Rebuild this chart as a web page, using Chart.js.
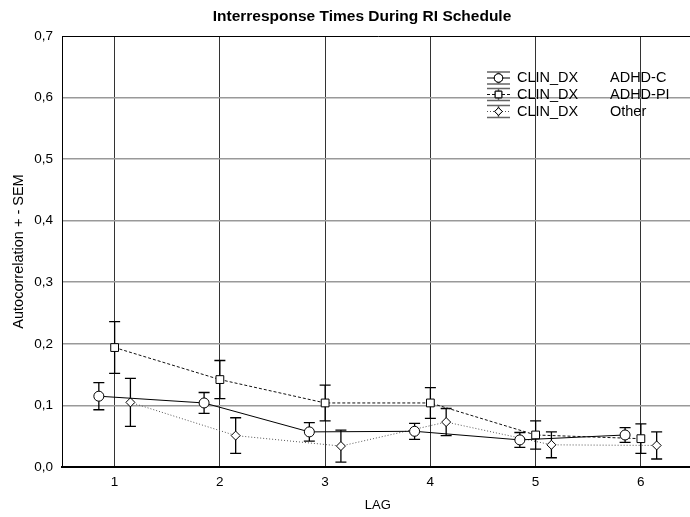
<!DOCTYPE html>
<html>
<head>
<meta charset="utf-8">
<script src="https://cdn.jsdelivr.net/npm/chart.js@4/dist/chart.umd.min.js"></script>
<style>
  html, body { margin: 0; padding: 0; background: #fff; overflow: hidden; }
  /* the plot runs a little past the right edge of the frame */
  #wrap { width: 690px; height: 517px; overflow: hidden; }
</style>
</head>
<body>
<div id="wrap"><canvas id="c" width="700" height="517"></canvas></div>
<script>
// Lags on the x axis
const lags = [1, 2, 3, 4, 5, 6];
const xTickLabels = ['1', '2', '3', '4', '5', '6'];
const yTickValues = [0, 0.1, 0.2, 0.3, 0.4, 0.5, 0.6, 0.7];

// Mean autocorrelation per clinical group, with its SEM
const adhdC  = [0.115, 0.104, 0.057, 0.058, 0.044, 0.052];
const semC   = [0.022, 0.017, 0.015, 0.013, 0.012, 0.012];
const adhdPI = [0.194, 0.142, 0.104, 0.104, 0.052, 0.046];
const semPI  = [0.042, 0.031, 0.029, 0.025, 0.023, 0.024];
const other  = [0.105, 0.051, 0.034, 0.073, 0.036, 0.035];
const semO   = [0.039, 0.029, 0.026, 0.022, 0.021, 0.022];

const groupNames = ['ADHD-C', 'ADHD-PI', 'Other'];
const factorName = 'CLIN_DX';
const chartTitle = 'Interresponse Times During RI Schedule';

const FONT = "'Liberation Sans', Arial, sans-serif";
Chart.defaults.font.family = FONT;
Chart.defaults.color = '#000';

const series = [
  { vals: adhdC,  sem: semC,  shift: -0.15, style: 'circle',  radius: 5,   color: '#000', dash: [] },
  { vals: adhdPI, sem: semPI, shift: 0,     style: 'rect',    radius: 5.5, color: '#111', dash: [3, 2] },
  { vals: other,  sem: semO,  shift: 0.15,  style: 'rectRot', radius: 4.5, color: '#555', dash: [1, 2] }
];

const datasets = series.map((s, k) => ({
  label: factorName + ' ' + groupNames[k],
  data: lags.map((l, i) => ({ x: l + s.shift, y: s.vals[i] })),
  borderColor: s.color,
  borderWidth: 1,
  borderDash: s.dash,
  pointStyle: s.style,
  pointRadius: s.radius,
  pointHoverRadius: s.radius,
  pointBackgroundColor: '#fff',
  pointBorderColor: '#000',
  pointBorderWidth: 1,
  tension: 0,
  fill: false
}));

// Vertical error bars (mean ± SEM) drawn under the markers
const errorBars = {
  id: 'errorBars',
  beforeDatasetsDraw(chart) {
    const { ctx, scales: { x, y } } = chart;
    ctx.save();
    ctx.strokeStyle = '#000';
    ctx.lineWidth = 1.3;
    ctx.setLineDash([]);
    series.forEach(s => {
      lags.forEach((l, i) => {
        const px = x.getPixelForValue(l + s.shift);
        const top = y.getPixelForValue(s.vals[i] + s.sem[i]);
        const bot = y.getPixelForValue(s.vals[i] - s.sem[i]);
        const cap = 5.5;
        ctx.beginPath();
        ctx.moveTo(px, top); ctx.lineTo(px, bot);
        ctx.moveTo(px - cap, top); ctx.lineTo(px + cap, top);
        ctx.moveTo(px - cap, bot); ctx.lineTo(px + cap, bot);
        ctx.stroke();
      });
    });
    ctx.restore();
  }
};

// Bold heading above the plot
const heading = {
  id: 'heading',
  afterDraw(chart) {
    const { ctx } = chart;
    ctx.save();
    ctx.font = "bold 15.5px " + FONT;
    ctx.fillStyle = '#000';
    ctx.textAlign = 'center';
    ctx.textBaseline = 'middle';
    ctx.fillText(chartTitle, 362, 16.5);
    ctx.restore();
  }
};

// Legend block in the upper right of the plot
const groupLegend = {
  id: 'groupLegend',
  afterDraw(chart) {
    const { ctx } = chart;
    const x0 = 487, x1 = 510, xm = 498.5;
    const rows = [78, 94.5, 111.5];
    ctx.save();
    ctx.font = "14.5px " + FONT;
    ctx.textBaseline = 'middle';
    series.forEach((s, k) => {
      const yy = rows[k];
      ctx.setLineDash([]);
      ctx.strokeStyle = '#666';
      ctx.lineWidth = 1.5;
      ctx.beginPath();
      ctx.moveTo(x0, yy - 6); ctx.lineTo(x1, yy - 6);
      ctx.moveTo(x0, yy + 6); ctx.lineTo(x1, yy + 6);
      ctx.moveTo(xm, yy - 6); ctx.lineTo(xm, yy + 6);
      ctx.stroke();
      ctx.strokeStyle = s.color;
      ctx.lineWidth = 1;
      ctx.setLineDash(s.dash);
      ctx.beginPath();
      ctx.moveTo(x0, yy); ctx.lineTo(x1, yy);
      ctx.stroke();
      ctx.setLineDash([]);
      ctx.fillStyle = '#fff';
      ctx.strokeStyle = '#000';
      ctx.lineWidth = 1;
      Chart.helpers.drawPoint(ctx, { pointStyle: s.style, radius: s.radius * 0.85, borderWidth: 1 }, xm, yy);
      ctx.fill();
      ctx.stroke();
      ctx.fillStyle = '#000';
      ctx.fillText(factorName, 517, yy);
      ctx.fillText(groupNames[k], 610, yy);
    });
    ctx.restore();
  }
};

new Chart(document.getElementById('c'), {
  type: 'line',
  data: { datasets },
  plugins: [errorBars, heading, groupLegend],
  options: {
    responsive: false,
    animation: false,
    layout: { padding: { top: 36, right: 0, left: 0, bottom: 0 } },
    plugins: {
      legend: { display: false },
      tooltip: { enabled: false },
      title: { display: false }
    },
    scales: {
      x: {
        type: 'linear',
        min: 0.5,
        max: 6.5,
        afterBuildTicks(axis) { axis.ticks = lags.map(v => ({ value: v })); },
        afterFit(axis) { axis.height = 50; },
        ticks: {
          font: { size: 13.5 },
          padding: 7,
          callback: (v) => xTickLabels[lags.indexOf(v)] ?? ''
        },
        grid: { color: '#333', lineWidth: 1, drawTicks: false },
        border: { color: '#000', width: 2 },
        title: { display: true, text: 'LAG', font: { size: 13 }, padding: { top: 0, bottom: 4 } }
      },
      y: {
        min: 0,
        max: 0.7,
        afterBuildTicks(axis) { axis.ticks = yTickValues.map(v => ({ value: v })); },
        afterFit(axis) { axis.width = 62; },
        ticks: {
          font: { size: 13.5 },
          padding: 9,
          callback: (v) => v.toFixed(1).replace('.', ',')
        },
        grid: {
          drawTicks: false,
          color: (c) => (Math.abs(c.tick.value - 0.7) < 1e-6 || c.tick.value === 0) ? '#000' : '#999',
          lineWidth: (c) => (Math.abs(c.tick.value - 0.7) < 1e-6) ? 1 : 1.6
        },
        border: { color: '#000', width: 1 },
        title: { display: true, text: 'Autocorrelation + - SEM', font: { size: 14.5 }, padding: { top: 10, bottom: 0 } }
      }
    }
  }
});
</script>
</body>
</html>
